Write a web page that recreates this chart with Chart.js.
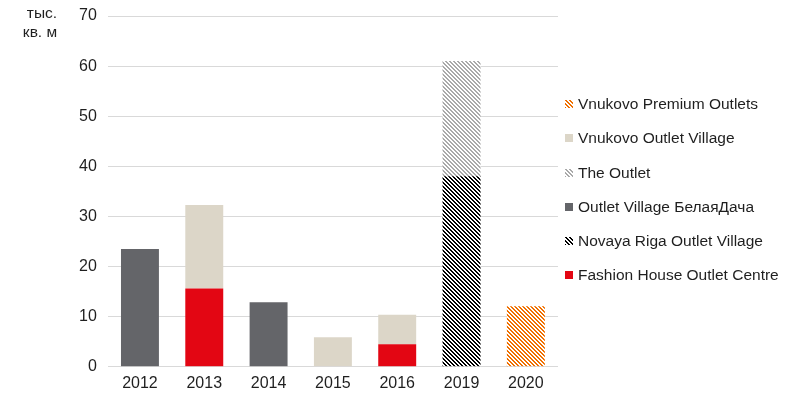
<!DOCTYPE html>
<html>
<head>
<meta charset="utf-8">
<script src="https://cdn.jsdelivr.net/npm/chart.js@4.4.1/dist/chart.umd.min.js"></script>
<style>
    html, body { margin: 0; padding: 0; background: #fff; }
    #wrap { position: relative; width: 805px; height: 397px; }
    #legend {
        position: absolute; left: 565px; top: 87px; margin: 0; padding: 0; list-style: none;
        font: 15.5px "Liberation Sans", Arial, sans-serif; color: #1f1f1f;
    }
    #legend li { height: 34.3px; line-height: 34.3px; white-space: nowrap; }
    #legend canvas { display: inline-block; vertical-align: middle; margin: -2px 5px 0 0; }
</style>
</head>
<body>
<div id="wrap">
    <canvas id="chart" width="805" height="397"></canvas>
    <ul id="legend"></ul>
</div>
<script>
// Chart data (тыс. кв. м)
const years = ['2012', '2013', '2014', '2015', '2016', '2019', '2020'];
const fashionHouse   = [null, 15.6, null, null, 4.5, null, null];
const novayaRiga     = [null, null, null, null, null, 38.0, null];
const belayaDacha    = [23.5, null, 12.9, null, null, null, null];
const theOutlet      = [null, null, null, null, null, 23.0, null];
const vnukovoVillage = [null, 16.7, null, 5.9, 5.9, null, null];
const vnukovoPremium = [null, null, null, null, null, null, 12.1];
const yTicks = [0, 10, 20, 30, 40, 50, 60, 70];

const FONT = '"Liberation Sans", Arial, sans-serif';
const TEXT = '#1f1f1f';

// Pixel test for a downward diagonal hatch, 4px period, 2px stripes
function onStripe(x, y) {
    return ((x - y) % 4 + 4) % 4 < 2;
}

function makeHatch(color) {
    const tile = document.createElement('canvas');
    tile.width = 4;
    tile.height = 4;
    const c = tile.getContext('2d');
    c.fillStyle = '#ffffff';
    c.fillRect(0, 0, 4, 4);
    c.fillStyle = color;
    for (let y = 0; y < 4; y++) {
        for (let x = 0; x < 4; x++) {
            if (onStripe(x, y)) c.fillRect(x, y, 1, 1);
        }
    }
    return document.getElementById('chart').getContext('2d').createPattern(tile, 'repeat');
}

const datasets = [
    { label: 'Fashion House Outlet Centre', data: fashionHouse, backgroundColor: '#e30613' },
    { label: 'Novaya Riga Outlet Village', data: novayaRiga, backgroundColor: makeHatch('#000000'), swatch: '#000000' },
    { label: 'Outlet Village БелаяДача', data: belayaDacha, backgroundColor: '#646569' },
    { label: 'The Outlet', data: theOutlet, backgroundColor: makeHatch('#a9a9a9'), swatch: '#a9a9a9' },
    { label: 'Vnukovo Outlet Village', data: vnukovoVillage, backgroundColor: '#dcd6c8' },
    { label: 'Vnukovo Premium Outlets', data: vnukovoPremium, backgroundColor: makeHatch('#f07000'), swatch: '#f07000' }
];

// Unit caption in the top-left corner
const unitLabel = {
    id: 'unitLabel',
    afterDraw(chart) {
        const ctx = chart.ctx;
        ctx.save();
        ctx.font = '15.5px ' + FONT;
        ctx.fillStyle = TEXT;
        ctx.textAlign = 'center';
        ctx.textBaseline = 'middle';
        ctx.fillText('тыс.', 42, 14);
        ctx.fillText('кв. м', 40, 33);
        ctx.restore();
    }
};

const chart = new Chart(document.getElementById('chart'), {
    type: 'bar',
    data: { labels: years, datasets: datasets },
    options: {
        responsive: false,
        animation: false,
        layout: { padding: { left: 68, right: 247, top: 16, bottom: -3 } },
        datasets: { bar: { categoryPercentage: 1, barPercentage: 0.59 } },
        plugins: {
            legend: { display: false },
            tooltip: { enabled: false }
        },
        scales: {
            x: {
                stacked: true,
                grid: { display: false, drawTicks: false },
                border: { display: false },
                ticks: { color: TEXT, font: { family: FONT, size: 16 }, padding: 7 }
            },
            y: {
                stacked: true,
                min: 0,
                max: 70,
                afterBuildTicks(axis) { axis.ticks = yTicks.map(v => ({ value: v })); },
                // let the layout padding set the top edge, not the label height
                afterFit(axis) { axis.paddingTop = 0; },
                grid: { color: '#d9d9d9', drawTicks: false },
                border: { display: false },
                ticks: { color: TEXT, font: { family: FONT, size: 16 }, padding: 11 }
            }
        }
    },
    plugins: [unitLabel]
});

/**
 * Legend, listed in reverse stacking order
 */
const legend = document.getElementById('legend');
datasets.slice().reverse().forEach(ds => {
    const li = document.createElement('li');
    const box = document.createElement('canvas');
    box.width = 8;
    box.height = 8;
    const bctx = box.getContext('2d');
    if (ds.swatch) {
        bctx.fillStyle = '#ffffff';
        bctx.fillRect(0, 0, 8, 8);
        bctx.fillStyle = ds.swatch;
        for (let y = 0; y < 8; y++) {
            for (let x = 0; x < 8; x++) {
                if (onStripe(x, y)) bctx.fillRect(x, y, 1, 1);
            }
        }
    } else {
        bctx.fillStyle = ds.backgroundColor;
        bctx.fillRect(0, 0, 8, 8);
    }
    li.appendChild(box);
    li.appendChild(document.createTextNode(ds.label));
    legend.appendChild(li);
});
</script>
</body>
</html>
